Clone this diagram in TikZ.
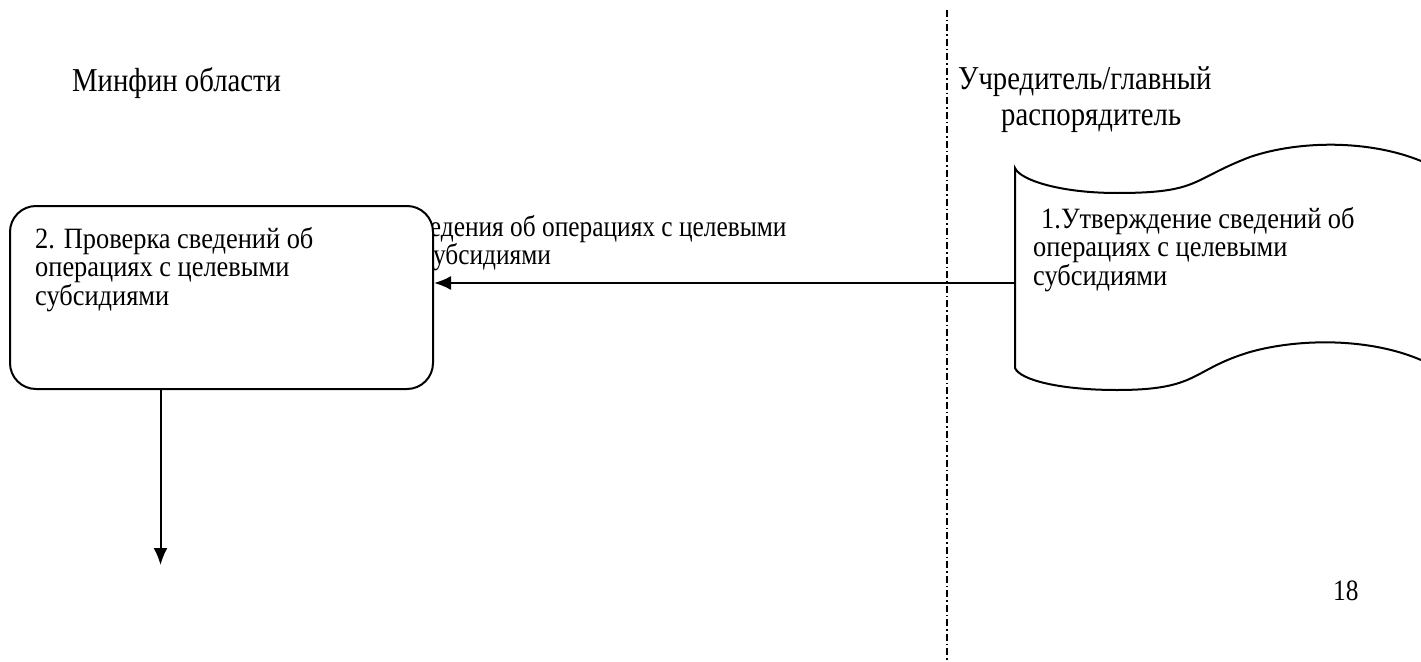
\documentclass[tikz,border=0pt]{standalone}
\usepackage{fontspec}
\setmainfont{Liberation Serif}
\newfontfamily\tallserif[FakeStretch=0.86]{Liberation Serif}
\newfontfamily\boxserif[FakeStretch=0.895]{Liberation Serif}
\usetikzlibrary{arrows.meta}
\tikzset{
  txt/.style={inner sep=0pt, anchor=base west, align=left,
    font={\tallserif\fontsize{29.5}{28.5}\selectfont\lineskiplimit=-100pt}},
  boxtxt/.style={inner sep=0pt, anchor=base west, align=left,
    font={\boxserif\fontsize{29.5}{28.5}\selectfont\lineskiplimit=-100pt}},
  head/.style={inner sep=0pt, anchor=base west, align=left,
    font={\tallserif\fontsize{33.4}{36}\selectfont\lineskiplimit=-100pt}},
  line/.style={line width=2pt},
  arr/.style={line width=2pt, -{Latex[length=17pt,width=14pt]}},
  lane/.style={line width=1.6pt, dash pattern=on 7pt off 3pt on 1.5pt off 3pt},
  procbox/.style={draw, line width=2pt, rounded corners=26pt, fill=white, inner sep=0pt}
}
\begin{document}
\begin{tikzpicture}[x=1pt,y=-1pt]
\useasboundingbox (0,0) rectangle (1421,661);
% lane divider
\coordinate (laneTop) at (947,10);
\coordinate (laneBot) at (947,661);
\draw[lane] (laneTop) -- (laneBot);
% headings
\node[head] (h1) at (72,91) {Минфин области};
\node[head] (h2) at (958,125) {Учредитель/главный\\\hspace*{43pt}распорядитель};
% connector label (partly hidden by the box)
\node[txt] (lab) at (401,264.5) {Сведения об операциях с целевыми\\\hspace*{21pt}субсидиями};
% process box
\node[procbox, minimum width=423pt, minimum height=183pt] (chk) at (221.5,297.5) {};
\node[boxtxt] (chktext) at (35,305) {2. Проверка сведений об\\операциях с целевыми\\субсидиями};
% document shape
\draw[line] (1421,161) .. controls (1370,140) and (1300,140) .. (1250,157)
  .. controls (1190,180) and (1200,193) .. (1117,193)
  .. controls (1060,193) and (1020,180) .. (1015,168)
  -- (1015,368)
  .. controls (1020,380) and (1060,390) .. (1117,390)
  .. controls (1200,390) and (1190,370) .. (1250,352)
  .. controls (1300,338) and (1370,338) .. (1421,360);
\coordinate (docL) at (1015,283);
\node[boxtxt] (doctext) at (1033,285) {\hspace*{8pt}1.Утверждение сведений об\\операциях с целевыми\\субсидиями};
% connectors
\draw[arr] (docL) -- (docL -| chk.east);
\coordinate (dn) at (160.5,565);
\draw[arr] (dn |- chk.south) -- (dn);
% page number
\node[txt] (pg) at (1333,600) {18};
\end{tikzpicture}
\end{document}
